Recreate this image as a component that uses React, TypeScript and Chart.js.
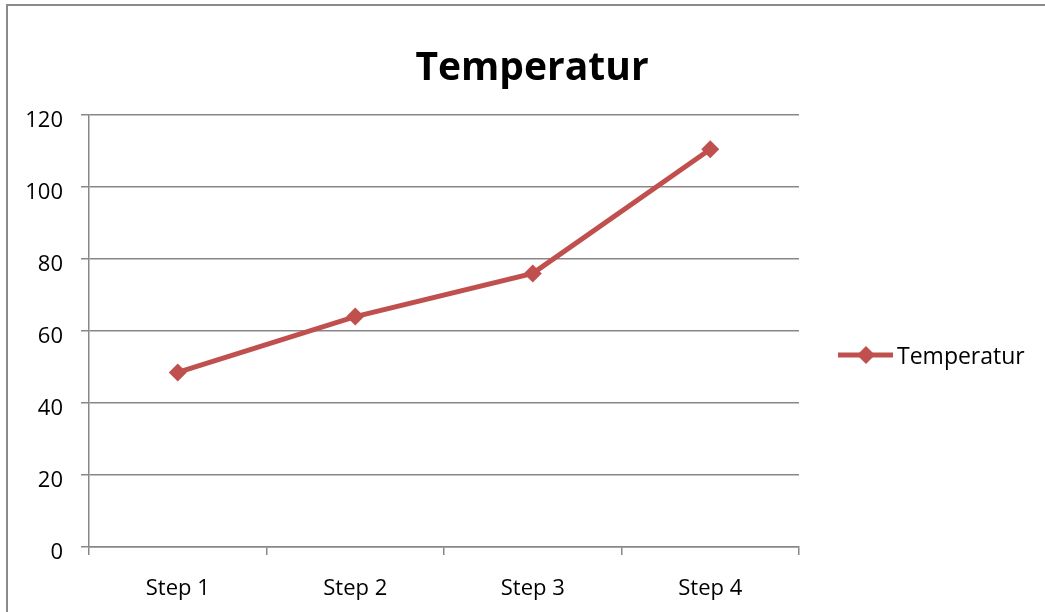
import React, { useEffect, useRef } from "react";
import { Chart, registerables } from "chart.js";

Chart.register(...registerables);

const TITLE = "Temperatur";
const SERIES_NAME = "Temperatur";
const CATEGORIES = ["Step 1", "Step 2", "Step 3", "Step 4"];
const VALUES = [48.5, 64, 76, 110.5];
const Y_MIN = 0;
const Y_MAX = 120;
const Y_STEP = 20;

const LINE_COLOR = "#C0504D";
const GRID_COLOR = "#878787";
const FONT = "'Open Sans', sans-serif";

const decorPlugin = {
  id: "decor",
  afterDraw(chart: any) {
    const ctx = chart.ctx;
    ctx.save();
    // outer frame (cropped)
    ctx.strokeStyle = "#8a8a8a";
    ctx.lineWidth = 2;
    ctx.beginPath();
    ctx.moveTo(7, 700);
    ctx.lineTo(7, 5);
    ctx.lineTo(1100, 5);
    ctx.stroke();
    // title
    ctx.fillStyle = "#000";
    ctx.font = `bold 39px ${FONT}`;
    ctx.textAlign = "center";
    ctx.textBaseline = "alphabetic";
    ctx.fillText(TITLE, 532, 80);
    // legend
    const ly = 355;
    ctx.strokeStyle = LINE_COLOR;
    ctx.lineWidth = 5;
    ctx.beginPath();
    ctx.moveTo(838, ly);
    ctx.lineTo(893, ly);
    ctx.stroke();
    ctx.fillStyle = LINE_COLOR;
    ctx.beginPath();
    const r = 9;
    ctx.moveTo(866, ly - r);
    ctx.lineTo(866 + r, ly);
    ctx.lineTo(866, ly + r);
    ctx.lineTo(866 - r, ly);
    ctx.closePath();
    ctx.fill();
    ctx.fillStyle = "#000";
    ctx.font = `23px ${FONT}`;
    ctx.textAlign = "left";
    ctx.textBaseline = "middle";
    ctx.fillText(SERIES_NAME, 897, ly + 2);
    ctx.restore();
  },
};

export default function App() {
  const ref = useRef<HTMLCanvasElement | null>(null);
  useEffect(() => {
    document.body.style.margin = "0";
    const chart = new Chart(ref.current as HTMLCanvasElement, {
      type: "line",
      data: {
        labels: CATEGORIES,
        datasets: [
          {
            label: SERIES_NAME,
            data: VALUES,
            borderColor: LINE_COLOR,
            backgroundColor: LINE_COLOR,
            borderWidth: 5,
            pointStyle: "rectRot",
            pointRadius: 9,
            pointBorderWidth: 0,
            pointBackgroundColor: LINE_COLOR,
            tension: 0,
          },
        ],
      },
      options: {
        animation: false,
        responsive: false,
        maintainAspectRatio: false,
        layout: { padding: { left: 0, top: 115, right: 246, bottom: 0 } },
        plugins: {
          legend: { display: false },
          title: { display: false },
          tooltip: { enabled: false },
        },
        scales: {
          x: {
            offset: true,
            afterFit: (s: any) => {
              s.height = 65;
            },
            grid: {
              offset: true,
              drawOnChartArea: false,
              drawTicks: true,
              tickLength: 8,
              color: GRID_COLOR,
              lineWidth: 1.5,
            },
            border: { display: true, color: GRID_COLOR, width: 1.5 },
            ticks: {
              color: "#000",
              font: { family: FONT, size: 22 },
              padding: 21,
              maxRotation: 0,
            },
          },
          y: {
            min: Y_MIN,
            max: Y_MAX,
            afterFit: (s: any) => {
              s.width = 89;
            },
            grid: {
              color: GRID_COLOR,
              lineWidth: 1.5,
              drawTicks: true,
              tickLength: 8,
            },
            border: { display: true, color: GRID_COLOR, width: 1.5 },
            ticks: {
              stepSize: Y_STEP,
              color: "#000",
              font: { family: FONT, size: 22 },
              padding: 18,
              labelOffset: 6,
            },
          },
        },
      },
      plugins: [decorPlugin],
    });
    return () => chart.destroy();
  }, []);
  return (
    <div style={{ position: "absolute", left: 0, top: 0, width: 1045, height: 612, background: "#fff" }}>
      <canvas ref={ref} width={1045} height={612} style={{ width: 1045, height: 612 }} />
    </div>
  );
}
